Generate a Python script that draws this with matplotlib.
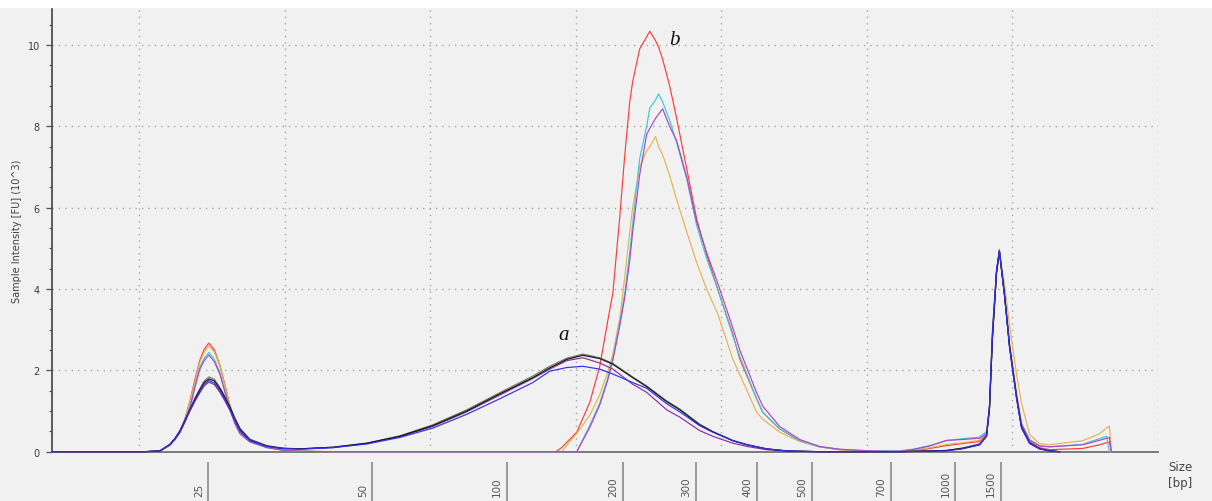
import matplotlib
matplotlib.use("Agg")
import matplotlib.pyplot as plt
from matplotlib.ticker import MultipleLocator
from matplotlib.patches import Rectangle

# ---- migration time (s) and fluorescence traces, intensity in 10^3 FU ----
TIME_A = [17.00, 20.19, 20.71, 21.05, 21.23, 21.40, 21.57, 21.74, 21.91, 22.08,
          22.23, 22.39, 22.58, 22.77, 22.94, 23.11, 23.28, 23.46, 23.80, 24.38,
          24.93, 25.52, 26.65, 27.82, 28.95, 30.08, 31.25, 32.38, 33.52, 34.10,
          34.69, 35.24, 35.82, 36.27, 36.95, 37.43, 38.12, 38.57, 39.25, 39.70,
          40.39, 40.87, 41.55, 42.24, 43.37, 46.12, 47.74, 48.28, 48.87, 49.11,
          49.21, 49.31, 49.45, 49.55, 49.73, 49.90, 50.14, 50.31, 50.59, 50.93,
          51.27, 51.62]

OLIVE = [0, 0, 0.02, 0.18, 0.33, 0.52, 0.78, 1.05, 1.32, 1.55,
         1.74, 1.84, 1.78, 1.58, 1.36, 1.12, 0.84, 0.58, 0.31, 0.15,
         0.09, 0.07, 0.11, 0.21, 0.39, 0.66, 1.03, 1.45, 1.86, 2.10,
         2.30, 2.40, 2.31, 2.17, 1.84, 1.62, 1.25, 1.05, 0.68, 0.50,
         0.28, 0.18, 0.07, 0.02, 0, 0, 0.03, 0.08, 0.18, 0.40,
         1.10, 2.80, 4.40, 4.95, 3.85, 2.60, 1.35, 0.62, 0.22, 0.08,
         0.03, 0.0]

BLACK = [0, 0, 0.02, 0.18, 0.33, 0.52, 0.77, 1.04, 1.29, 1.52,
         1.70, 1.79, 1.74, 1.55, 1.33, 1.10, 0.81, 0.55, 0.29, 0.14,
         0.08, 0.07, 0.11, 0.21, 0.38, 0.64, 1.00, 1.42, 1.82, 2.06,
         2.27, 2.37, 2.29, 2.15, 1.82, 1.60, 1.23, 1.03, 0.66, 0.49,
         0.27, 0.17, 0.07, 0.02, 0, 0, 0.03, 0.08, 0.17, 0.38,
         1.05, 2.75, 4.38, 4.93, 3.82, 2.58, 1.33, 0.60, 0.21, 0.07,
         0.02, 0.0]

PURPLE = [0, 0, 0.02, 0.17, 0.32, 0.50, 0.74, 1.00, 1.24, 1.45,
          1.62, 1.71, 1.65, 1.46, 1.25, 1.02, 0.76, 0.50, 0.27, 0.13,
          0.08, 0.07, 0.10, 0.20, 0.37, 0.62, 0.98, 1.39, 1.80, 2.03,
          2.24, 2.31, 2.18, 2.03, 1.66, 1.46, 1.03, 0.85, 0.52, 0.38,
          0.21, 0.13, 0.05, 0.01, 0, 0, 0.03, 0.09, 0.19, 0.40,
          1.08, 2.78, 4.40, 4.92, 3.85, 2.62, 1.36, 0.62, 0.22, 0.08,
          0.03, 0.0]

BLUE = [0, 0, 0.02, 0.17, 0.32, 0.50, 0.75, 1.02, 1.26, 1.48,
        1.66, 1.75, 1.69, 1.50, 1.28, 1.05, 0.78, 0.52, 0.28, 0.13,
        0.08, 0.06, 0.10, 0.19, 0.35, 0.58, 0.92, 1.30, 1.70, 1.98,
        2.07, 2.10, 2.03, 1.91, 1.70, 1.56, 1.18, 0.98, 0.64, 0.48,
        0.27, 0.17, 0.07, 0.02, 0, 0, 0.02, 0.07, 0.17, 0.38,
        1.10, 2.85, 4.45, 4.93, 3.80, 2.55, 1.30, 0.58, 0.20, 0.07,
        0.02, 0.0]

TIME_B = [17.00, 20.19, 20.71, 21.05, 21.23, 21.40, 21.57, 21.74, 21.91, 22.08,
          22.23, 22.39, 22.58, 22.77, 22.94, 23.11, 23.28, 23.46, 23.80, 24.38,
          24.93, 25.52, 26.65,
          34.31, 34.51, 35.03, 35.48, 35.82, 36.09, 36.27, 36.51, 36.68, 36.85,
          36.95, 37.19, 37.43, 37.54, 37.74, 37.84, 37.98, 38.22, 38.46, 38.81,
          39.15, 39.49, 39.87, 40.39, 40.63, 41.21, 41.42, 42.00, 42.69,
          43.37, 44.06, 45.09, 46.12, 46.57, 47.15, 47.74, 48.28, 48.87, 49.11,
          49.21, 49.31, 49.45, 49.55, 49.73, 49.90, 50.14, 50.31, 50.59, 50.93,
          51.27, 52.41, 52.99, 53.23, 53.33, 53.40]

RED = [0, 0, 0.02, 0.17, 0.32, 0.50, 0.82, 1.25, 1.78, 2.25,
       2.52, 2.67, 2.50, 2.12, 1.65, 1.15, 0.76, 0.48, 0.26, 0.11,
       0.04, 0.01, 0,
       0, 0.10, 0.48, 1.22, 2.10, 3.20, 3.90, 5.80, 7.30, 8.60,
       9.10, 9.90, 10.20, 10.34, 10.10, 9.95, 9.65, 9.00, 8.20, 6.95,
       5.72, 4.85, 4.00, 2.90, 2.28, 1.30, 0.97, 0.56, 0.27,
       0.12, 0.05, 0.01, 0.0, 0.02, 0.08, 0.15, 0.20, 0.25, 0.42,
       1.10, 2.90, 4.40, 4.95, 3.85, 2.60, 1.40, 0.65, 0.25, 0.10,
       0.05, 0.08, 0.17, 0.22, 0.24, 0.0]

GOLD = [0, 0, 0.02, 0.17, 0.32, 0.50, 0.80, 1.22, 1.72, 2.20,
        2.45, 2.60, 2.45, 2.10, 1.62, 1.15, 0.76, 0.50, 0.27, 0.11,
        0.04, 0.01, 0,
        0, 0.0, 0.45, 0.90, 1.40, 1.95, 2.40, 3.30, 4.30, 5.40,
        6.00, 7.00, 7.40, 7.50, 7.75, 7.50, 7.30, 6.80, 6.20, 5.40,
        4.65, 4.00, 3.40, 2.28, 1.90, 0.97, 0.80, 0.48, 0.25,
        0.12, 0.05, 0.01, 0.0, 0.03, 0.10, 0.18, 0.22, 0.28, 0.45,
        1.05, 2.80, 4.35, 4.90, 4.10, 3.10, 1.90, 1.20, 0.42, 0.20,
        0.17, 0.27, 0.44, 0.58, 0.63, 0.0]

CYAN = [0, 0, 0.02, 0.17, 0.31, 0.48, 0.75, 1.10, 1.62, 2.08,
        2.30, 2.44, 2.27, 1.95, 1.50, 1.05, 0.70, 0.44, 0.24, 0.10,
        0.04, 0.01, 0,
        0, 0, 0.0, 0.65, 1.20, 1.80, 2.30, 3.20, 3.90, 4.90,
        5.60, 7.20, 8.00, 8.45, 8.65, 8.80, 8.60, 8.15, 7.60, 6.70,
        5.56, 4.75, 4.00, 2.85, 2.35, 1.30, 0.97, 0.56, 0.27,
        0.12, 0.06, 0.02, 0.02, 0.06, 0.15, 0.27, 0.32, 0.36, 0.50,
        1.15, 3.00, 4.45, 4.98, 3.90, 2.65, 1.40, 0.70, 0.30, 0.15,
        0.12, 0.18, 0.32, 0.38, 0.0, 0.0]

MAGENTA = [0, 0, 0.02, 0.16, 0.30, 0.47, 0.74, 1.08, 1.58, 2.03,
           2.24, 2.38, 2.21, 1.90, 1.47, 1.05, 0.70, 0.44, 0.24, 0.10,
           0.04, 0.01, 0,
           0, 0, 0.0, 0.60, 1.15, 1.75, 2.25, 3.10, 3.80, 4.70,
           5.40, 6.80, 7.80, 7.95, 8.20, 8.30, 8.43, 8.00, 7.65, 6.75,
           5.65, 4.90, 4.15, 3.05, 2.50, 1.45, 1.12, 0.62, 0.30,
           0.13, 0.06, 0.02, 0.01, 0.05, 0.14, 0.28, 0.30, 0.33, 0.45,
           1.10, 2.90, 4.40, 4.95, 3.85, 2.60, 1.40, 0.68, 0.28, 0.14,
           0.12, 0.17, 0.28, 0.33, 0.35, 0.0]

# ladder sizes (bp) and the migration times where they fall
BP_LABELS = ["25", "50", "100", "200", "300", "400", "500", "700", "1000", "1500"]
BP_TIME = [22.37, 28.01, 32.62, 36.61, 39.12, 41.21, 43.10, 45.81, 48.04, 49.59]

Y_TICKS = [0, 2, 4, 6, 8, 10]
GRID_TIME = [20, 25, 30, 35, 40, 45, 50, 55]

# peak group labels: (text, time, intensity)
PEAK_TAGS = [("a", 34.57, 2.87), ("b", 38.39, 10.14)]

# ---- figure ----
BG = "#f1f1f1"
W, H = 1212, 502
fig = plt.figure(figsize=(W / 100, H / 100), dpi=100, facecolor=BG)
fig.patches.append(Rectangle((0, 1 - 9 / H), 1, 9 / H, transform=fig.transFigure,
                             facecolor="white", edgecolor="none", zorder=-5))

ax = fig.add_axes([52 / W, 49.3 / H, 1106 / W, 442.7 / H])
ax.set_facecolor(BG)
ax.set_xlim(17, 55)
ax.set_ylim(0, 10.885)

series_b = [(RED, "#ff3c3c"), (GOLD, "#e4b44c"), (CYAN, "#38ccd4"), (MAGENTA, "#b044c4")]
series_a = [(OLIVE, "#6c7b5c"), (PURPLE, "#8e2c9e"), (BLACK, "#151515"), (BLUE, "#2f2ff0")]
for vals, col in series_b:
    ax.plot(TIME_B, vals, color=col, lw=0.85, zorder=3, clip_on=False)
for vals, col in series_a:
    ax.plot(TIME_A, vals, color=col, lw=0.85, zorder=3, clip_on=False)

# spines
for side in ("top", "right"):
    ax.spines[side].set_visible(False)
ax.spines["left"].set_color("#505050")
ax.spines["left"].set_linewidth(1.3)
ax.spines["bottom"].set_color("#7a7a7a")
ax.spines["bottom"].set_linewidth(1.4)

# y axis
ax.set_yticks(Y_TICKS)
ax.yaxis.set_minor_locator(MultipleLocator(0.5))
ax.tick_params(axis="y", which="major", length=4.2, width=0.9, color="#505050",
               labelsize=7, labelcolor="#3c3c3c", pad=4.5)
ax.tick_params(axis="y", which="minor", length=2.2, width=0.8, color="#505050")

# time grid (no visible ticks)
ax.set_xticks(GRID_TIME)
ax.tick_params(axis="x", which="both", length=0, labelbottom=False)
ax.grid(True, which="major", linestyle=(0, (1, 3.6)), color="#a6a6a6", lw=1.0)
ax.set_axisbelow(True)

# size ladder ticks below the axis
sec = ax.secondary_xaxis(-10.5 / 442.7)
sec.set_xticks(BP_TIME)
sec.set_xticklabels([""] * len(BP_TIME))
sec.tick_params(axis="x", length=30, width=1.2, color="#8a8a8a", direction="out")
sec.spines["bottom"].set_visible(False)
for lbl, t in zip(BP_LABELS, BP_TIME):
    ax.annotate(lbl, xy=(t, 0), xycoords=("data", "axes fraction"),
                xytext=(-9.5, -44.5), textcoords="offset pixels",
                rotation=90, ha="center", va="bottom",
                fontsize=7.5, color="#555555", annotation_clip=False)

fig.text(1168 / W, 1 - 461 / H, "Size\n[bp]", ha="left", va="top",
         fontsize=8.5, color="#454545", linespacing=1.35)
fig.text(17 / W, 1 - 231 / H, "Sample Intensity [FU] (10^3)", rotation=90,
         ha="center", va="center", fontsize=7, color="#404040")

for txt, t, v in PEAK_TAGS:
    ax.text(t, v, txt, ha="center", va="center", fontsize=15,
            family="Liberation Serif", style="italic", color="#111111")

fig.savefig("out.png", dpi=100, facecolor=BG)
